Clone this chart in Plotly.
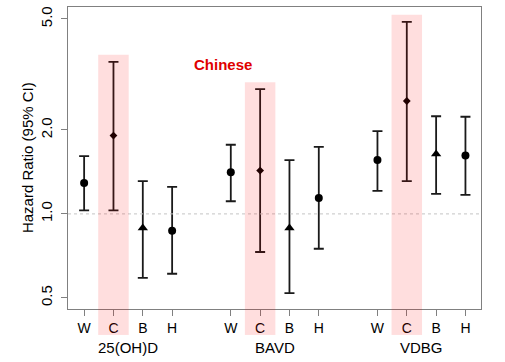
import plotly.graph_objects as go
import math

biomarkers = ["25(OH)D", "BAVD", "VDBG"]
groups = ["W", "C", "B", "H"]
hr = {"W": [1.29, 1.41, 1.56], "C": [1.91, 1.43, 2.54], "B": [0.89, 0.89, 1.64], "H": [0.87, 1.14, 1.62]}
lo = {"W": [1.03, 1.11, 1.21], "C": [1.03, 0.73, 1.31], "B": [0.59, 0.52, 1.18], "H": [0.61, 0.75, 1.17]}
hi = {"W": [1.61, 1.77, 1.98], "C": [3.51, 2.80, 4.88], "B": [1.31, 1.56, 2.24], "H": [1.25, 1.74, 2.23]}
yticks = [0.5, 1.0, 2.0, 5.0]
ytick_text = ["0.5", "1.0", "2.0", "5.0"]
highlight_group = "C"
label_text = "Chinese"
y_title = "Hazard Ratio (95% CI)"

symbols = {"W": "circle", "C": "diamond", "B": "triangle-up", "H": "circle"}
sizes = {"W": 8, "C": 6, "B": 9, "H": 8}
FONT = "Liberation Sans, Arial, sans-serif"

def xpos(bi, gi):
    return bi * 5 + gi + 1

fig = go.Figure()
for gi, g in enumerate(groups):
    xs = [xpos(bi, gi) for bi in range(len(biomarkers))]
    fig.add_trace(go.Scatter(
        x=xs, y=hr[g], mode="markers",
        marker=dict(symbol=symbols[g], size=sizes[g], color="black"),
        error_y=dict(type="data", symmetric=False,
                     array=[h - v for h, v in zip(hi[g], hr[g])],
                     arrayminus=[v - l for v, l in zip(hr[g], lo[g])],
                     color="#1a1a1a", thickness=1.8, width=5),
        showlegend=False, hoverinfo="skip"))

yrange = [math.log10(0.456), math.log10(5.52)]
xrange = [0.45, 14.53]

shapes = [dict(type="line", xref="paper", yref="y", x0=0, x1=1, y0=1, y1=1,
               line=dict(color="#C4C4C4", width=1, dash="3px,3px"), layer="above")]
gi = groups.index(highlight_group)
pink = "rgba(255,0,0,0.13)"
for bi in range(len(biomarkers)):
    xc = xpos(bi, gi)
    top = hi[highlight_group][bi] * 1.06
    shapes.append(dict(type="rect", xref="x", yref="y", x0=xc - 0.52, x1=xc + 0.52,
                       y0=10 ** yrange[0], y1=top, fillcolor=pink, line=dict(width=0), layer="above"))
    shapes.append(dict(type="rect", xref="x", yref="paper", x0=xc - 0.52, x1=xc + 0.52,
                       y0=-0.086, y1=0, fillcolor=pink, line=dict(width=0), layer="above"))

annotations = []
for bi, b in enumerate(biomarkers):
    annotations.append(dict(x=xpos(bi, 1.5), y=-0.129, xref="x", yref="paper", text=b,
                            showarrow=False, font=dict(size=15, color="black", family=FONT),
                            xanchor="center", yanchor="middle"))
annotations.append(dict(x=5.74, y=math.log10(3.44), xref="x", yref="y", text="<b>%s</b>" % label_text,
                        showarrow=False, font=dict(size=15, color="#E00000", family=FONT),
                        xanchor="center", yanchor="middle"))
annotations.append(dict(x=-0.099, y=0.5, xref="paper", yref="paper", text=y_title, textangle=-90,
                        showarrow=False, font=dict(size=15, color="black", family=FONT),
                        xanchor="center", yanchor="middle"))

tickvals = [xpos(bi, gi2) for bi in range(len(biomarkers)) for gi2 in range(len(groups))]
ticktext = [g for bi in range(len(biomarkers)) for g in groups]

fig.update_layout(
    width=505, height=362, margin=dict(l=68, r=24, t=7, b=53),
    plot_bgcolor="white", paper_bgcolor="white",
    font=dict(family=FONT, size=14, color="black"),
    shapes=shapes, annotations=annotations,
    xaxis=dict(range=xrange, tickvals=tickvals, ticktext=ticktext, showgrid=False, zeroline=False,
               showline=True, linecolor="#808080", linewidth=1, mirror=True, automargin=False,
               ticks="outside", ticklen=6, tickcolor="#808080", tickfont=dict(size=14)),
    yaxis=dict(type="log", range=yrange, tickvals=yticks, ticktext=ytick_text, showgrid=False,
               zeroline=False, showline=True, linecolor="#808080", linewidth=1, mirror=True,
               ticks="outside", ticklen=6, tickcolor="#808080", tickangle=-90, automargin=False,
               tickfont=dict(size=15), ticklabelstandoff=3),
)
fig.write_html("out.html", config={"displayModeBar": False},
               post_script="document.body.style.margin='0';")
